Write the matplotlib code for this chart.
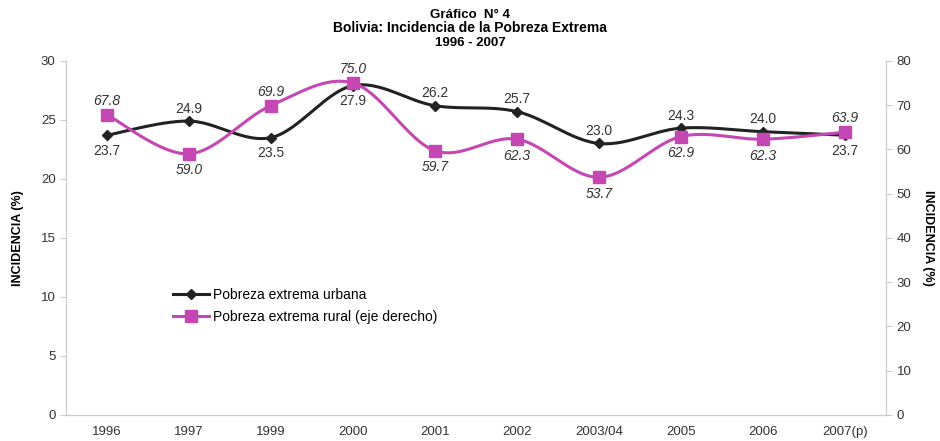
import matplotlib.pyplot as plt
import numpy as np

plt.rcParams['font.family'] = ['Liberation Sans', 'DejaVu Sans']

# Data
years = ['1996', '1997', '1999', '2000', '2001', '2002', '2003/04', '2005', '2006', '2007(p)']
urbana = [23.7, 24.9, 23.5, 27.9, 26.2, 25.7, 23.0, 24.3, 24.0, 23.7]
rural = [67.8, 59.0, 69.9, 75.0, 59.7, 62.3, 53.7, 62.9, 62.3, 63.9]
# label placement: True = above point
urb_above = [False, True, False, False, True, True, True, True, True, False]
rur_above = [True, False, True, True, False, False, False, False, False, True]

black = '#222222'
magenta = '#C447B4'


def smooth(x, y, n=30, t=0.5):
    # cardinal spline through points, similar to Excel smoothed lines
    x = np.asarray(x, float)
    y = np.asarray(y, float)
    px = np.concatenate([[x[0]], x, [x[-1]]])
    py = np.concatenate([[y[0]], y, [y[-1]]])
    xs, ys = [], []
    s = np.linspace(0, 1, n)
    for i in range(1, len(px) - 2):
        mx0 = (px[i + 1] - px[i - 1]) * t
        my0 = (py[i + 1] - py[i - 1]) * t
        mx1 = (px[i + 2] - px[i]) * t
        my1 = (py[i + 2] - py[i]) * t
        h00 = 2 * s**3 - 3 * s**2 + 1
        h10 = s**3 - 2 * s**2 + s
        h01 = -2 * s**3 + 3 * s**2
        h11 = s**3 - s**2
        xs.append(h00 * px[i] + h10 * mx0 + h01 * px[i + 1] + h11 * mx1)
        ys.append(h00 * py[i] + h10 * my0 + h01 * py[i + 1] + h11 * my1)
    return np.concatenate(xs), np.concatenate(ys)


fig = plt.figure(figsize=(9.4, 4.41), dpi=100)
ax = fig.add_axes([0.0702, 0.059, 0.8724, 0.803])
ax2 = ax.twinx()

idx = np.arange(len(years))

sx, sy = smooth(idx, urbana)
ax.plot(sx, sy, color=black, lw=2.2, zorder=3)
ax.plot(idx, urbana, ls='none', marker='D', ms=5, color=black, zorder=4)

rx, ry = smooth(idx, rural)
ax2.plot(rx, ry, color=magenta, lw=2.2, zorder=3)
ax2.plot(idx, rural, ls='none', marker='s', ms=8, color=magenta, zorder=4)

for i, v in enumerate(urbana):
    off = 9 if urb_above[i] else -11
    ax.annotate(f'{v:.1f}', (i, v), xytext=(0, off), textcoords='offset points',
                ha='center', va='center', fontsize=10, color='#333333')
for i, v in enumerate(rural):
    off = 10 if rur_above[i] else -12
    ax2.annotate(f'{v:.1f}', (i, v), xytext=(0, off), textcoords='offset points',
                 ha='center', va='center', fontsize=10, color='#333333', style='italic')

ax.set_xlim(-0.5, len(years) - 0.5)
ax.set_ylim(0, 30)
ax2.set_ylim(0, 80)
ax.set_yticks(range(0, 31, 5))
ax2.set_yticks(range(0, 81, 10))
ax.set_xticks(idx)
ax.set_xticklabels(years)

for a in (ax, ax2):
    a.tick_params(labelsize=9.5, colors='#cccccc', labelcolor='#333333', length=4, width=0.8)
    for sp in a.spines.values():
        sp.set_color('#cccccc')
    a.spines['top'].set_visible(False)
ax.tick_params(axis='x', length=0, pad=8)

ax.set_ylabel('INCIDENCIA (%)', fontsize=9, fontweight='bold', labelpad=12)
ax2.set_ylabel('INCIDENCIA (%)', fontsize=9, fontweight='bold', rotation=270, labelpad=16)

fig.text(0.5, 0.967, 'Gráfico  N° 4', ha='center', va='center', fontsize=9.5, fontweight='bold')
fig.text(0.5, 0.936, 'Bolivia: Incidencia de la Pobreza Extrema', ha='center', va='center',
         fontsize=10, fontweight='bold')
fig.text(0.5, 0.903, '1996 - 2007', ha='center', va='center', fontsize=9.5, fontweight='bold')

h1 = ax.plot([], [], color=black, lw=2.2, marker='D', ms=5, label='Pobreza extrema urbana')[0]
h2 = ax.plot([], [], color=magenta, lw=2.2, marker='s', ms=8, label='Pobreza extrema rural (eje derecho)')[0]
ax.legend(handles=[h1, h2], loc='upper left', bbox_to_anchor=(0.115, 0.395), frameon=False,
          fontsize=10, handlelength=2.6, handletextpad=0.3, labelspacing=0.6)

fig.savefig('out.png', dpi=100)
